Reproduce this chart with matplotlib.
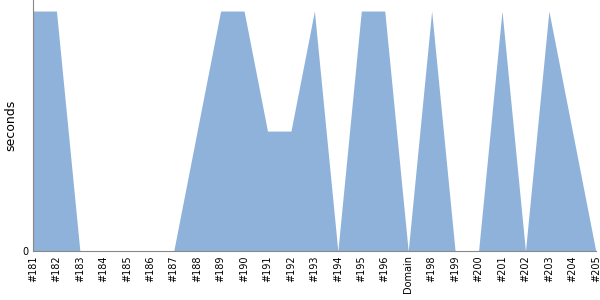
import numpy as np
import matplotlib
matplotlib.use('Agg')
import matplotlib.pyplot as plt

labels = ['#181', '#182', '#183', '#184', '#185', '#186', '#187', '#188', '#189',
          '#190', '#191', '#192', '#193', '#194', '#195', '#196', 'Domain', '#198',
          '#199', '#200', '#201', '#202', '#203', '#204', '#205']
seconds = [1, 1, 0, 0, 0, 0, 0, 0.5, 1, 1, 0.5, 0.5, 1, 0, 1, 1, 0, 1, 0, 0, 1, 0, 1, 0.5, 0]

fig = plt.figure(figsize=(6, 3), dpi=100)
ax = fig.add_axes([0.055, 0.163, 0.938, 0.837])
x = np.arange(len(labels))
ax.fill_between(x, seconds, 0, color='#8fb2da', linewidth=0)

ax.set_xlim(0, len(labels) - 1)
ax.set_ylim(0, 1.046)
ax.set_xticks(x)
ax.set_xticklabels(labels, rotation=90, fontsize=7)
ax.set_yticks([0])
ax.set_yticklabels(['0'], fontsize=7)
ax.tick_params(length=0, pad=3)
ax.set_ylabel('seconds', fontsize=9)
for s in ['top', 'right']:
    ax.spines[s].set_visible(False)
ax.spines['left'].set_color('#888888')
ax.spines['bottom'].set_color('#888888')

fig.savefig('out.png', dpi=100)
